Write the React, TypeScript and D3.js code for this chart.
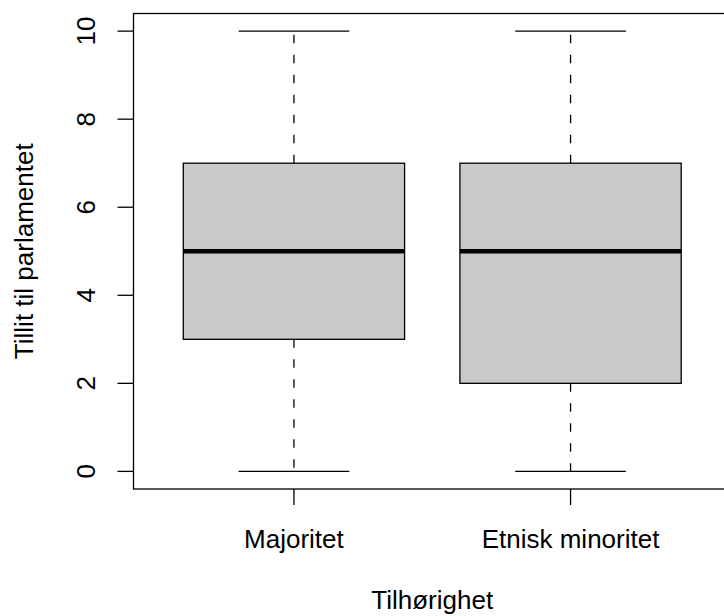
import * as d3 from 'd3'

const categories = ['Majoritet', 'Etnisk minoritet']
const whiskerLow = [0, 0]
const q1 = [3, 2]
const median = [5, 5]
const q3 = [7, 7]
const whiskerHigh = [10, 10]
const yTicks = [0, 2, 4, 6, 8, 10]

const W = 724
const H = 616
const font = '"Liberation Sans", Arial, Helvetica, sans-serif'

export default function App() {
  // R style: 4% padding around 0.5..2.5 and 0..10
  const x = d3.scaleLinear().domain([0.42, 2.58]).range([133.5, 731])
  const y = d3.scaleLinear().domain([-0.4, 10.4]).range([489, 13.5])
  const boxHalf = 0.4
  const capHalf = 0.2
  const left = x(0.42)
  const right = x(2.58)

  return (
    <svg
      width={W}
      height={H}
      style={{ position: 'absolute', left: 0, top: 0, background: '#fff' }}
      fontFamily={font}
    >
      {categories.map((cat, i) => {
        const c = i + 1
        const cx = x(c)
        return (
          <g key={cat}>
            {/* whiskers */}
            <line x1={cx} x2={cx} y1={y(q3[i])} y2={y(whiskerHigh[i])} stroke="#000" strokeWidth={1.3} strokeDasharray="8.5 11.5" />
            <line x1={cx} x2={cx} y1={y(q1[i])} y2={y(whiskerLow[i])} stroke="#000" strokeWidth={1.3} strokeDasharray="8.5 11.5" />
            <line x1={x(c - capHalf)} x2={x(c + capHalf)} y1={y(whiskerHigh[i])} y2={y(whiskerHigh[i])} stroke="#000" strokeWidth={1.3} />
            <line x1={x(c - capHalf)} x2={x(c + capHalf)} y1={y(whiskerLow[i])} y2={y(whiskerLow[i])} stroke="#000" strokeWidth={1.3} />
            {/* box */}
            <rect
              x={x(c - boxHalf)}
              y={y(q3[i])}
              width={x(c + boxHalf) - x(c - boxHalf)}
              height={y(q1[i]) - y(q3[i])}
              fill="#c9c9c9"
              stroke="#000"
              strokeWidth={1.3}
            />
            <line x1={x(c - boxHalf)} x2={x(c + boxHalf)} y1={y(median[i])} y2={y(median[i])} stroke="#000" strokeWidth={4.5} />
            {/* x tick + label */}
            <line x1={cx} x2={cx} y1={489} y2={505} stroke="#000" strokeWidth={1.3} />
            <text x={cx} y={548} textAnchor="middle" fontSize={26} fill="#000">{cat}</text>
          </g>
        )
      })}

      {/* y axis */}
      {yTicks.map(t => (
        <g key={t}>
          <line x1={117.5} x2={left} y1={y(t)} y2={y(t)} stroke="#000" strokeWidth={1.3} />
          <text transform={`translate(95, ${y(t)}) rotate(-90)`} textAnchor="middle" fontSize={26} fill="#000">{t}</text>
        </g>
      ))}

      {/* frame */}
      <rect x={left} y={y(10.4)} width={right - left} height={y(-0.4) - y(10.4)} fill="none" stroke="#000" strokeWidth={1.3} />

      {/* axis titles */}
      <text x={(left + right) / 2} y={609} textAnchor="middle" fontSize={26} fill="#000">Tilhørighet</text>
      <text transform={`translate(33, ${(y(10.4) + y(-0.4)) / 2}) rotate(-90)`} textAnchor="middle" fontSize={26} fill="#000">Tillit til parlamentet</text>
    </svg>
  )
}
